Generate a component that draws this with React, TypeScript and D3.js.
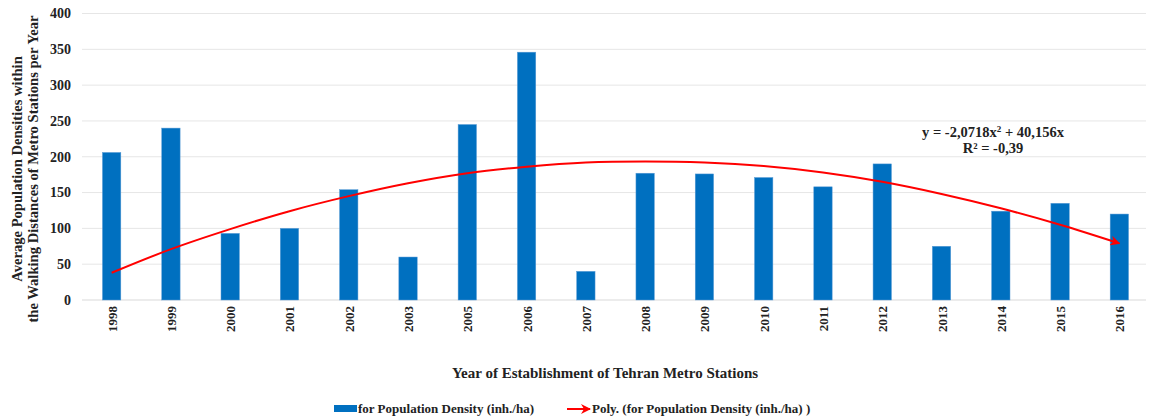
import React from "react";
import * as d3 from "d3";

const years = ["1998","1999","2000","2001","2002","2003","2005","2006","2007","2008","2009","2010","2011","2012","2013","2014","2015","2016"];
const density = [206, 240, 93, 100, 154, 60, 245, 346, 40, 177, 176, 171, 158, 190, 75, 124, 135, 120];
const trend = [38, 71, 99, 124, 145, 163, 177, 186, 192, 193.5, 192, 187, 178, 165, 148, 128, 105, 79];
const yTicks = [0, 50, 100, 150, 200, 250, 300, 350, 400];
const seriesName = "for Population Density (inh./ha)";
const trendName = "Poly. (for Population Density (inh./ha) )";
const eqLine1 = "y = -2,0718x";
const eqLine1b = " + 40,156x";
const eqLine2 = "R² = -0,39";
const yTitle1 = "Average Population Densities within";
const yTitle2 = "the Walking Distances of Metro Stations per Year";
const xTitle = "Year of Establishment of Tehran Metro Stations";

const W = 1149, H = 419;
const FONT = "'Liberation Serif', 'Times New Roman', serif";
const BLUE = "#0070C0";
const RED = "#FF0000";

export default function App() {
  const x = d3.scaleBand<string>().domain(years).range([82, 1149]).paddingInner(0.69).paddingOuter(0.345);
  const y = d3.scaleLinear().domain([0, 400]).range([300, 13.5]);
  const cx = (i: number) => (x(years[i]) as number) + x.bandwidth() / 2;
  const line = d3.line<number>().x((_, i) => cx(i)).y((d) => y(d)).curve(d3.curveCatmullRom.alpha(0.5));

  return (
    <svg width={W} height={H} style={{ position: "absolute", left: 0, top: 0, background: "#fff" }} fontFamily={FONT}>
      <defs>
        <marker id="arr" viewBox="0 0 10 10" refX="9" refY="5" markerWidth="5" markerHeight="5" orient="auto" markerUnits="strokeWidth">
          <path d="M0,0 L10,5 L0,10 L3,5 z" fill={RED} />
        </marker>
      </defs>
      {yTicks.map((t) => (
        <g key={t}>
          <line x1={82} x2={1146} y1={y(t)} y2={y(t)} stroke={t === 0 ? "#d9d9d9" : "#e6e6e6"} strokeWidth={1} />
          <text x={71} y={y(t)} dy="0.35em" textAnchor="end" fontSize={14} fontWeight="bold" fill="#222">{t}</text>
        </g>
      ))}
      {density.map((v, i) => (
        <rect key={years[i]} x={x(years[i])} y={y(v)} width={x.bandwidth()} height={y(0) - y(v)} fill={BLUE} stroke="#5b9bd5" strokeWidth={0.5} />
      ))}
      <path d={line(trend) || ""} fill="none" stroke={RED} strokeWidth={2} markerEnd="url(#arr)" />
      {years.map((yr, i) => (
        <text key={yr} transform={`translate(${cx(i) + 5},${306}) rotate(-90)`} textAnchor="end" fontSize={13} fontWeight="bold" fill="#222">{yr}</text>
      ))}
      <text x={993} y={137} textAnchor="middle" fontSize={14.5} fontWeight="bold" fill="#222">
        {eqLine1}<tspan fontSize={9} dy={-5}>2</tspan><tspan dy={5}>{eqLine1b}</tspan>
      </text>
      <text x={993} y={153} textAnchor="middle" fontSize={14.5} fontWeight="bold" fill="#222">{eqLine2}</text>
      <text transform={`translate(22,169) rotate(-90)`} textAnchor="middle" fontSize={14.6} fontWeight="bold" fill="#222">{yTitle1}</text>
      <text transform={`translate(38,169) rotate(-90)`} textAnchor="middle" fontSize={14.6} fontWeight="bold" fill="#222">{yTitle2}</text>
      <text x={605} y={378} textAnchor="middle" fontSize={15} fontWeight="bold" fill="#222">{xTitle}</text>
      <rect x={334} y={405} width={23} height={7} fill={BLUE} />
      <text x={358} y={413} fontSize={13} fontWeight="bold" fill="#222">{seriesName}</text>
      <line x1={567} x2={590} y1={409} y2={409} stroke={RED} strokeWidth={2} markerEnd="url(#arr)" />
      <text x={592} y={413} fontSize={13} fontWeight="bold" fill="#222">{trendName}</text>
    </svg>
  );
}
